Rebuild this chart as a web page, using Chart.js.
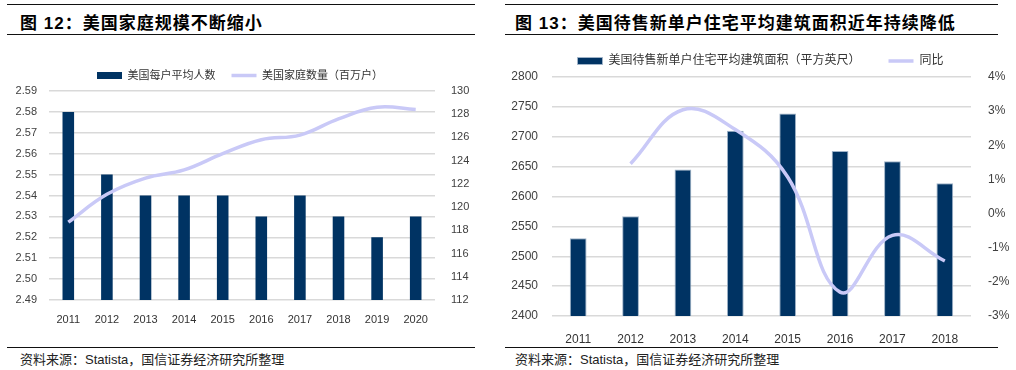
<!DOCTYPE html>
<html>

<head>
  <meta charset="utf-8">
  <title>美国家庭规模与住宅面积</title>
  <script src="https://cdn.jsdelivr.net/npm/chart.js"></script>
  <style>
    body {
      margin: 0;
      background: #fff;
      font-family: "Liberation Sans", "Noto Sans CJK SC", sans-serif;
      width: 1016px;
      height: 370px;
      position: relative;
      overflow: hidden;
    }

    .rule {
      position: absolute;
      height: 0;
      border-top: 1.5px solid #111;
    }

    .title {
      position: absolute;
      top: 9px;
      font-size: 17px;
      font-weight: bold;
      letter-spacing: 1px;
      color: #000;
      white-space: nowrap;
    }

    .source {
      position: absolute;
      top: 349px;
      font-size: 13px;
      color: #222;
      white-space: nowrap;
    }

    canvas {
      position: absolute;
    }
  </style>
</head>

<body>
  <div class="rule" style="left:7px;width:468px;top:4px"></div>
  <div class="title" style="left:20px">图 12：美国家庭规模不断缩小</div>
  <div class="rule" style="left:7px;width:468px;top:34px"></div>
  <canvas id="chart1" width="480" height="300" style="left:0;top:40px"></canvas>
  <div class="rule" style="left:7px;width:468px;top:347px"></div>
  <div class="source" style="left:20px">资料来源：Statista，国信证券经济研究所整理</div>

  <div class="rule" style="left:505px;width:493px;top:4px"></div>
  <div class="title" style="left:515px">图 13：美国待售新单户住宅平均建筑面积近年持续降低</div>
  <div class="rule" style="left:505px;width:493px;top:34px"></div>
  <canvas id="chart2" width="511" height="305" style="left:505px;top:40px"></canvas>
  <div class="rule" style="left:505px;width:493px;top:347px"></div>
  <div class="source" style="left:515px">资料来源：Statista，国信证券经济研究所整理</div>

  <script>
    // figure 12
    const years1 = ['2011', '2012', '2013', '2014', '2015', '2016', '2017', '2018', '2019', '2020'];
    const personsPerHousehold = [2.58, 2.55, 2.54, 2.54, 2.54, 2.53, 2.54, 2.53, 2.52, 2.53];
    const households = [118.7, 121.1, 122.5, 123.2, 124.6, 125.8, 126.2, 127.6, 128.6, 128.4];

    // figure 13
    const years2 = ['2011', '2012', '2013', '2014', '2015', '2016', '2017', '2018'];
    const floorArea = [2530, 2567, 2645, 2710, 2739, 2676, 2659, 2622];
    const yoyPct = [null, 1.46, 3.04, 2.46, 1.07, -2.3, -0.64, -1.39];

    const navy = '#003363';
    const lavender = '#c9c9f7';
    const gridColor = '#d9d9d9';
    const textColor = '#404040';

    Chart.defaults.font.family = '"Liberation Sans", "Noto Sans CJK SC", sans-serif';
    Chart.defaults.color = textColor;

    function legendOpts(fontSize, gap) {
      return {
        position: 'top',
        labels: {
          usePointStyle: true,
          pointStyleWidth: 25,
          boxHeight: 7,
          padding: gap,
          color: '#333',
          font: { size: fontSize },
          sort: (a, b) => a.datasetIndex - b.datasetIndex
        }
      };
    }

    new Chart(document.getElementById('chart1').getContext('2d'), {
      type: 'bar',
      data: {
        labels: years1,
        datasets: [
          {
            label: '美国每户平均人数',
            data: personsPerHousehold,
            backgroundColor: navy,
            borderWidth: 0,
            barPercentage: 0.3,
            categoryPercentage: 1,
            pointStyle: 'rect',
            yAxisID: 'y',
            order: 2
          },
          {
            type: 'line',
            label: '美国家庭数量（百万户）',
            data: households,
            borderColor: lavender,
            backgroundColor: lavender,
            borderWidth: 3.5,
            pointRadius: 0,
            pointStyle: 'line',
            tension: 0.4,
            yAxisID: 'y1',
            order: 1
          }
        ]
      },
      options: {
        responsive: false,
        animation: false,
        layout: { padding: { top: 14 } },
        plugins: {
          legend: legendOpts(11, 16),
          tooltip: { enabled: false }
        },
        scales: {
          x: {
            grid: { display: false },
            border: { display: false },
            ticks: { font: { size: 11 }, padding: 5, color: '#333' },
            afterFit: s => { s.height = 40; }
          },
          y: {
            position: 'left',
            min: 2.49,
            max: 2.59,
            ticks: {
              stepSize: 0.01,
              padding: 12,
              font: { size: 11 },
              callback: v => v.toFixed(2)
            },
            grid: { color: gridColor, drawTicks: false, lineWidth: 1.5 },
            border: { display: false },
            afterFit: s => { s.width = 49; }
          },
          y1: {
            position: 'right',
            min: 112,
            max: 130,
            ticks: { stepSize: 2, padding: 8, font: { size: 11 } },
            grid: { display: false },
            border: { display: false },
            afterFit: s => { s.width = 45; }
          }
        }
      }
    });

    new Chart(document.getElementById('chart2').getContext('2d'), {
      type: 'bar',
      data: {
        labels: years2,
        datasets: [
          {
            label: '美国待售新单户住宅平均建筑面积（平方英尺）',
            data: floorArea,
            backgroundColor: navy,
            borderColor: '#9fb3c8',
            borderWidth: 1,
            barPercentage: 0.32,
            categoryPercentage: 1,
            pointStyle: 'rect',
            yAxisID: 'y',
            order: 2
          },
          {
            type: 'line',
            label: '同比',
            data: yoyPct,
            borderColor: lavender,
            backgroundColor: lavender,
            borderWidth: 3.5,
            pointRadius: 0,
            pointStyle: 'line',
            tension: 0.4,
            yAxisID: 'y1',
            order: 1
          }
        ]
      },
      options: {
        responsive: false,
        animation: false,
        layout: { padding: { top: -13 } },
        plugins: {
          legend: legendOpts(12, 28),
          tooltip: { enabled: false }
        },
        scales: {
          x: {
            grid: { display: false },
            border: { display: false },
            ticks: { font: { size: 12 }, padding: 8, color: '#333' },
            afterFit: s => { s.height = 29; }
          },
          y: {
            position: 'left',
            min: 2400,
            max: 2800,
            ticks: { stepSize: 50, padding: 14, font: { size: 12 }, callback: v => String(v) },
            grid: { color: gridColor, drawTicks: false, lineWidth: 1.5 },
            border: { display: false },
            afterFit: s => { s.width = 47; }
          },
          y1: {
            position: 'right',
            min: -3,
            max: 4,
            ticks: { stepSize: 1, padding: 9, font: { size: 12 }, callback: v => v + '%' },
            grid: { display: false },
            border: { display: false },
            afterFit: s => { s.width = 45; }
          }
        }
      }
    });
  </script>
</body>

</html>
